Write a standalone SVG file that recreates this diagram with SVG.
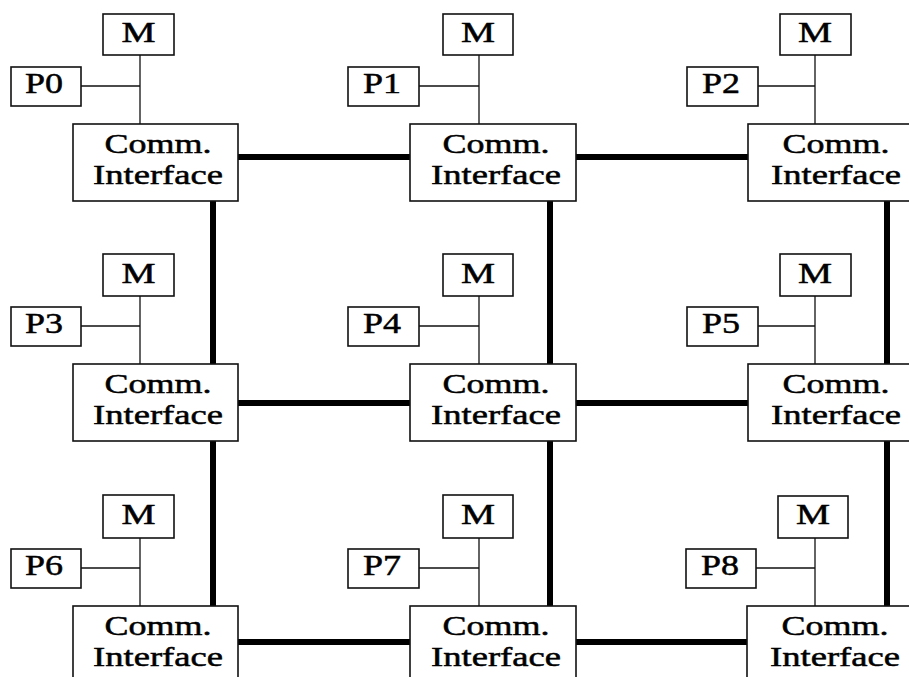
<svg xmlns="http://www.w3.org/2000/svg" width="909" height="677" viewBox="0 0 909 677">
  <style>
    .box { fill: #ffffff; stroke: #111111; stroke-width: 1.6; }
    .thin { stroke: #111111; stroke-width: 1.3; fill: none; }
    .net { stroke: #000000; stroke-width: 6; fill: none; }
    .lbl { font-family: "Liberation Serif", "Times New Roman", serif; font-size: 30px; fill: #000000; stroke: #000000; stroke-width: 0.5; text-anchor: middle; }
    .ci { font-size: 28px; }
  </style>
  <rect x="0" y="0" width="909" height="677" fill="#ffffff"/>

  <!-- interconnect: thin local links and thick mesh links -->
  <g id="connectors">
    <!-- memory/processor taps onto each interface -->
    <path class="thin" d="M140,55 V124 M81,86 H140"/>
    <path class="thin" d="M479,55 V124 M419,86 H479"/>
    <path class="thin" d="M815,55 V124 M758,86 H815"/>
    <path class="thin" d="M140,296 V364 M81,326 H140"/>
    <path class="thin" d="M479,296 V364 M419,326 H479"/>
    <path class="thin" d="M815,296 V364 M758,326 H815"/>
    <path class="thin" d="M140,538 V606 M81,568 H140"/>
    <path class="thin" d="M479,538 V606 M419,568 H479"/>
    <path class="thin" d="M815,538 V606 M756,568 H815"/>
    <!-- mesh rows -->
    <path class="net" d="M238,157 H410 M576,157 H748"/>
    <path class="net" d="M238,403 H410 M576,403 H748"/>
    <path class="net" d="M238,642 H410 M576,642 H748"/>
    <!-- mesh columns -->
    <path class="net" d="M213,201 V364 M213,441 V606"/>
    <path class="net" d="M550,201 V364 M550,441 V606"/>
    <path class="net" d="M887,201 V364 M887,441 V606"/>
  </g>

  <!-- row 0 -->
  <g id="m0"><rect class="box" x="103" y="14" width="71" height="41"/><text class="lbl" x="138.5" y="42" textLength="34" lengthAdjust="spacingAndGlyphs">M</text></g>
  <g id="p0"><rect class="box" x="11" y="67" width="70" height="39"/><text class="lbl" x="44" y="93" textLength="38" lengthAdjust="spacingAndGlyphs">P0</text></g>
  <g id="ci0"><rect class="box" x="73" y="124" width="165" height="77"/><text class="lbl ci" x="158" y="153" textLength="107" lengthAdjust="spacingAndGlyphs">Comm.</text><text class="lbl ci" x="158" y="184" textLength="130" lengthAdjust="spacingAndGlyphs">Interface</text></g>

  <g id="m1"><rect class="box" x="443" y="14" width="70" height="41"/><text class="lbl" x="478" y="42" textLength="34" lengthAdjust="spacingAndGlyphs">M</text></g>
  <g id="p1"><rect class="box" x="348" y="67" width="71" height="39"/><text class="lbl" x="382" y="93" textLength="38" lengthAdjust="spacingAndGlyphs">P1</text></g>
  <g id="ci1"><rect class="box" x="410" y="124" width="166" height="77"/><text class="lbl ci" x="496" y="153" textLength="107" lengthAdjust="spacingAndGlyphs">Comm.</text><text class="lbl ci" x="496" y="184" textLength="130" lengthAdjust="spacingAndGlyphs">Interface</text></g>

  <g id="m2"><rect class="box" x="780" y="14" width="71" height="41"/><text class="lbl" x="815" y="42" textLength="34" lengthAdjust="spacingAndGlyphs">M</text></g>
  <g id="p2"><rect class="box" x="687" y="67" width="71" height="39"/><text class="lbl" x="721" y="93" textLength="38" lengthAdjust="spacingAndGlyphs">P2</text></g>
  <g id="ci2"><rect class="box" x="748" y="124" width="170" height="77"/><text class="lbl ci" x="836" y="153" textLength="107" lengthAdjust="spacingAndGlyphs">Comm.</text><text class="lbl ci" x="836" y="184" textLength="130" lengthAdjust="spacingAndGlyphs">Interface</text></g>

  <!-- row 1 -->
  <g id="m3"><rect class="box" x="103" y="254" width="71" height="42"/><text class="lbl" x="138.5" y="283" textLength="34" lengthAdjust="spacingAndGlyphs">M</text></g>
  <g id="p3"><rect class="box" x="11" y="307" width="70" height="39"/><text class="lbl" x="44" y="333" textLength="38" lengthAdjust="spacingAndGlyphs">P3</text></g>
  <g id="ci3"><rect class="box" x="73" y="364" width="165" height="77"/><text class="lbl ci" x="158" y="393" textLength="107" lengthAdjust="spacingAndGlyphs">Comm.</text><text class="lbl ci" x="158" y="424" textLength="130" lengthAdjust="spacingAndGlyphs">Interface</text></g>

  <g id="m4"><rect class="box" x="443" y="254" width="70" height="42"/><text class="lbl" x="478" y="283" textLength="34" lengthAdjust="spacingAndGlyphs">M</text></g>
  <g id="p4"><rect class="box" x="348" y="307" width="71" height="39"/><text class="lbl" x="382" y="333" textLength="38" lengthAdjust="spacingAndGlyphs">P4</text></g>
  <g id="ci4"><rect class="box" x="410" y="364" width="166" height="77"/><text class="lbl ci" x="496" y="393" textLength="107" lengthAdjust="spacingAndGlyphs">Comm.</text><text class="lbl ci" x="496" y="424" textLength="130" lengthAdjust="spacingAndGlyphs">Interface</text></g>

  <g id="m5"><rect class="box" x="780" y="254" width="71" height="42"/><text class="lbl" x="815" y="283" textLength="34" lengthAdjust="spacingAndGlyphs">M</text></g>
  <g id="p5"><rect class="box" x="687" y="307" width="71" height="39"/><text class="lbl" x="721" y="333" textLength="38" lengthAdjust="spacingAndGlyphs">P5</text></g>
  <g id="ci5"><rect class="box" x="748" y="364" width="170" height="77"/><text class="lbl ci" x="836" y="393" textLength="107" lengthAdjust="spacingAndGlyphs">Comm.</text><text class="lbl ci" x="836" y="424" textLength="130" lengthAdjust="spacingAndGlyphs">Interface</text></g>

  <!-- row 2 -->
  <g id="m6"><rect class="box" x="103" y="495" width="71" height="43"/><text class="lbl" x="138.5" y="524" textLength="34" lengthAdjust="spacingAndGlyphs">M</text></g>
  <g id="p6"><rect class="box" x="11" y="549" width="70" height="39"/><text class="lbl" x="44" y="575" textLength="38" lengthAdjust="spacingAndGlyphs">P6</text></g>
  <g id="ci6"><rect class="box" x="73" y="606" width="165" height="78"/><text class="lbl ci" x="158" y="635" textLength="107" lengthAdjust="spacingAndGlyphs">Comm.</text><text class="lbl ci" x="158" y="666" textLength="130" lengthAdjust="spacingAndGlyphs">Interface</text></g>

  <g id="m7"><rect class="box" x="443" y="495" width="70" height="43"/><text class="lbl" x="478" y="524" textLength="34" lengthAdjust="spacingAndGlyphs">M</text></g>
  <g id="p7"><rect class="box" x="348" y="549" width="71" height="39"/><text class="lbl" x="382" y="575" textLength="38" lengthAdjust="spacingAndGlyphs">P7</text></g>
  <g id="ci7"><rect class="box" x="410" y="606" width="166" height="78"/><text class="lbl ci" x="496" y="635" textLength="107" lengthAdjust="spacingAndGlyphs">Comm.</text><text class="lbl ci" x="496" y="666" textLength="130" lengthAdjust="spacingAndGlyphs">Interface</text></g>

  <g id="m8"><rect class="box" x="778" y="496" width="70" height="42"/><text class="lbl" x="813" y="524" textLength="34" lengthAdjust="spacingAndGlyphs">M</text></g>
  <g id="p8"><rect class="box" x="686" y="549" width="70" height="39"/><text class="lbl" x="720" y="575" textLength="38" lengthAdjust="spacingAndGlyphs">P8</text></g>
  <g id="ci8"><rect class="box" x="747" y="606" width="171" height="78"/><text class="lbl ci" x="835" y="635" textLength="107" lengthAdjust="spacingAndGlyphs">Comm.</text><text class="lbl ci" x="835" y="666" textLength="130" lengthAdjust="spacingAndGlyphs">Interface</text></g>
</svg>
